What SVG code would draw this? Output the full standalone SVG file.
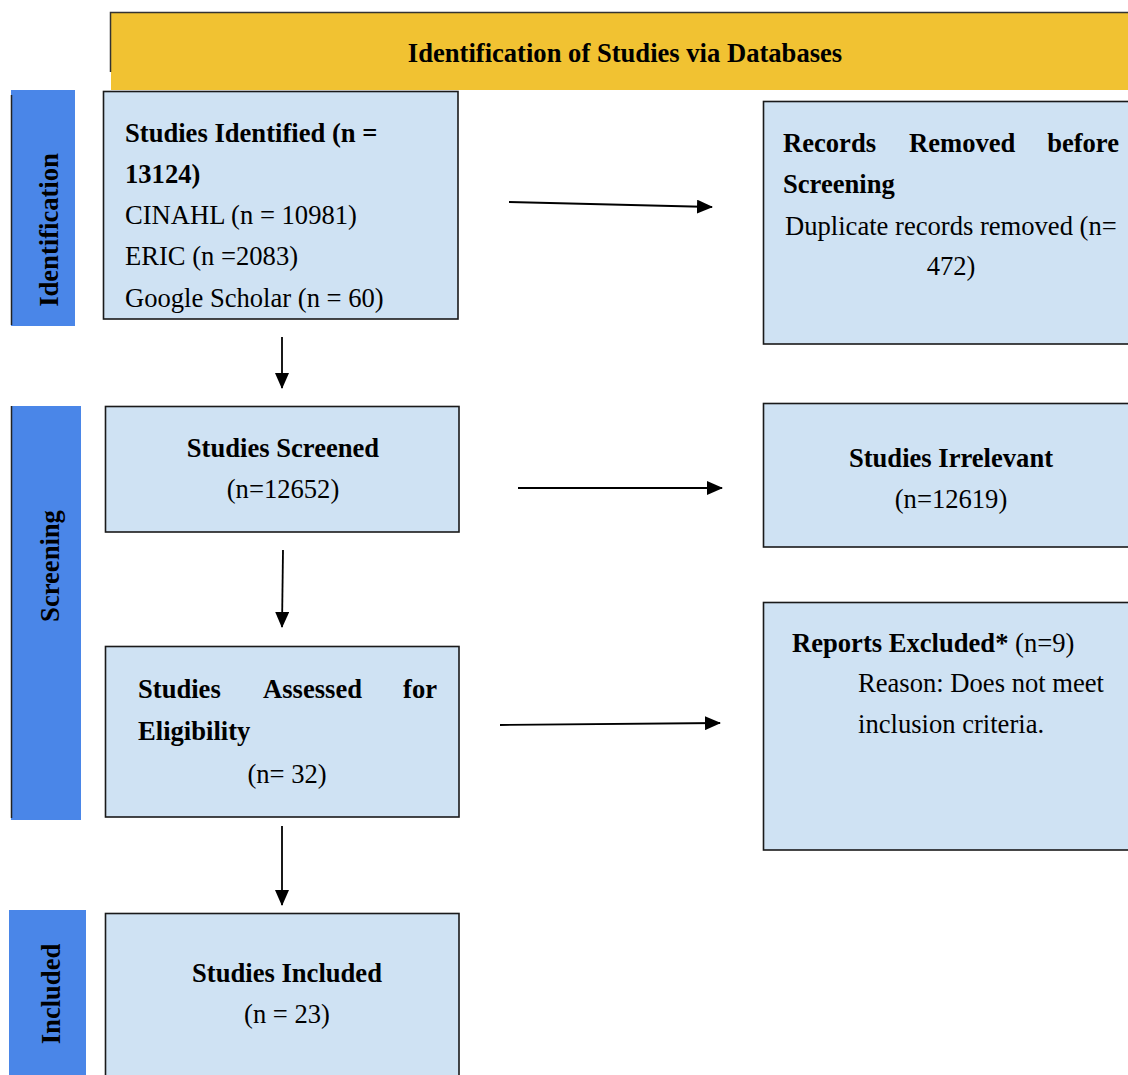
<svg xmlns="http://www.w3.org/2000/svg" width="1128" height="1075" viewBox="0 0 1128 1075">
<style>
.box{fill:#cfe2f3;stroke:#1a1a1a;stroke-width:1.6}
.bar{fill:#4a86e8}
.t{font-family:"Liberation Serif","Times New Roman",serif;font-size:26.6px;fill:#000}
.b{font-weight:bold}
.c{text-anchor:middle}
.e{text-anchor:end}
.con{stroke:#000;stroke-width:1.8;fill:none;marker-end:url(#ah)}
</style>
<defs>
<marker id="ah" markerWidth="16" markerHeight="14" refX="15" refY="7" orient="auto" markerUnits="userSpaceOnUse">
<path d="M0,0 L16,7 L0,14 Z" fill="#000"/>
</marker>
</defs>
<rect width="1128" height="1075" fill="#fff"/>

<g id="header">
<rect x="111" y="12" width="1020" height="78" fill="#f1c232"/>
<path d="M110.5,72 V12.5 H1128" fill="none" stroke="#333" stroke-width="1.5"/>
<text class="t b c" x="625" y="62">Identification of Studies via Databases</text>
</g>

<g id="stage-identification">
<rect class="bar" x="11" y="90" width="64" height="236"/>
<line x1="11.5" y1="95" x2="11.5" y2="325" stroke="#222" stroke-width="1.5"/>
<text class="t b c" transform="translate(58,230) rotate(-90)">Identification</text>
</g>

<g id="stage-screening">
<rect class="bar" x="11" y="406" width="70" height="414"/>
<line x1="11.5" y1="406" x2="11.5" y2="818" stroke="#222" stroke-width="1.5"/>
<text class="t b c" transform="translate(59,566) rotate(-90)">Screening</text>
</g>

<g id="stage-included">
<rect class="bar" x="9" y="910" width="77" height="165"/>
<text class="t b c" transform="translate(60,994) rotate(-90)">Included</text>
</g>

<g id="node-identified">
<rect class="box" x="103.5" y="91.5" width="354.5" height="227.5"/>
<text class="t b" x="125" y="142">Studies Identified (n =</text>
<text class="t b" x="125" y="183">13124)</text>
<text class="t" x="125" y="224">CINAHL (n = 10981)</text>
<text class="t" x="125" y="265">ERIC (n =2083)</text>
<text class="t" x="125" y="306.5">Google Scholar (n = 60)</text>
</g>

<g id="node-removed">
<rect class="box" x="763.5" y="101.5" width="370" height="242.5"/>
<text class="t b" x="783" y="152">Records</text>
<text class="t b" x="909" y="152">Removed</text>
<text class="t b e" x="1119" y="152">before</text>
<text class="t b" x="783" y="193">Screening</text>
<text class="t" x="785" y="235">Duplicate records removed (n=</text>
<text class="t c" x="951" y="275">472)</text>
</g>

<g id="node-screened">
<rect class="box" x="105.5" y="406.5" width="353.5" height="125.5"/>
<text class="t b c" x="283" y="457">Studies Screened</text>
<text class="t c" x="283" y="498">(n=12652)</text>
</g>

<g id="node-irrelevant">
<rect class="box" x="763.5" y="403.5" width="370" height="143.5"/>
<text class="t b c" x="951" y="467">Studies Irrelevant</text>
<text class="t c" x="951" y="508">(n=12619)</text>
</g>

<g id="node-assessed">
<rect class="box" x="105.5" y="646.5" width="353.5" height="170.5"/>
<text class="t b" x="138" y="698">Studies</text>
<text class="t b" x="263" y="698">Assessed</text>
<text class="t b e" x="437" y="698">for</text>
<text class="t b" x="138" y="740">Eligibility</text>
<text class="t c" x="287" y="783">(n= 32)</text>
</g>

<g id="node-excluded">
<rect class="box" x="763.5" y="602.5" width="370" height="247.5"/>
<text class="t" x="792" y="652"><tspan class="b">Reports Excluded*</tspan> (n=9)</text>
<text class="t" x="858" y="692">Reason: Does not meet</text>
<text class="t" x="858" y="733">inclusion criteria.</text>
</g>

<g id="node-included">
<rect class="box" x="105.5" y="913.5" width="353.5" height="170"/>
<text class="t b c" x="287" y="982">Studies Included</text>
<text class="t c" x="287" y="1023">(n = 23)</text>
</g>

<g id="connectors">
<line class="con" x1="509" y1="202" x2="712" y2="207"/>
<line class="con" x1="282" y1="337" x2="282" y2="388"/>
<line class="con" x1="518" y1="488" x2="722" y2="488"/>
<line class="con" x1="283" y1="550" x2="282" y2="627"/>
<line class="con" x1="500" y1="725" x2="720" y2="723"/>
<line class="con" x1="282" y1="826" x2="282" y2="905"/>
</g>
</svg>
